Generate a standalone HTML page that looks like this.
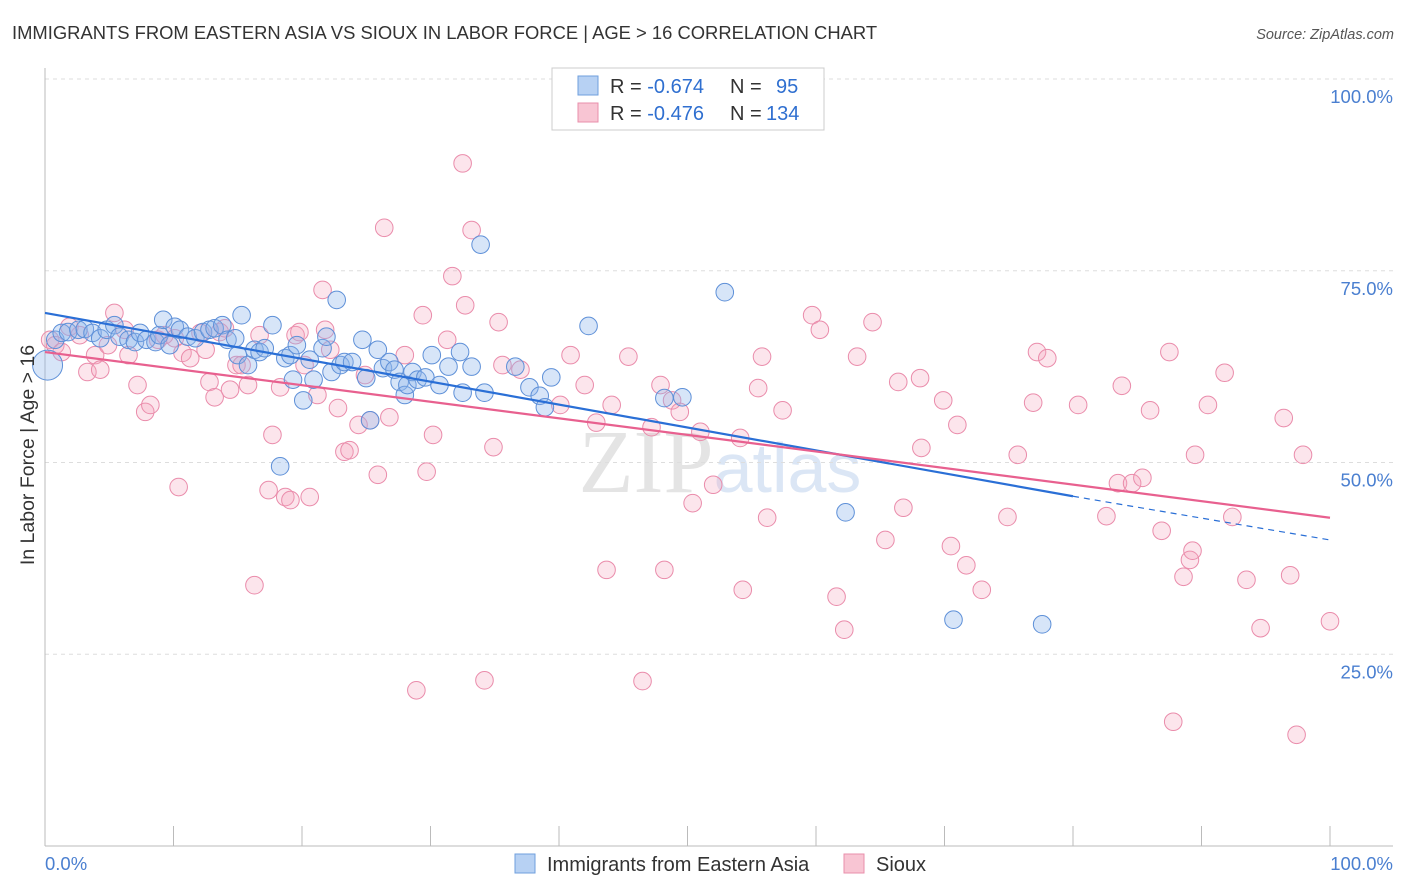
<!DOCTYPE html>
<html><head><meta charset="utf-8">
<style>
body{margin:0;background:#fff;font-family:"Liberation Sans",sans-serif;}
svg{display:block}
</style></head>
<body>
<svg id="chart" width="1406" height="892">
<text x="12" y="39" font-size="18.4" fill="#333">IMMIGRANTS FROM EASTERN ASIA VS SIOUX IN LABOR FORCE | AGE &gt; 16 CORRELATION CHART</text>
<text x="1394" y="39" font-size="14.5" fill="#555" font-style="italic" text-anchor="end">Source: ZipAtlas.com</text>
<text x="720" y="492" font-size="90" fill="#e4e4e4" text-anchor="middle" font-family="Liberation Serif,serif">ZIP<tspan fill="#dbe6f5" font-family="Liberation Sans,sans-serif" font-size="70">atlas</tspan></text>
<g id="grid"></g>
<g id="pts"></g>
<g id="lines"></g>
<text transform="translate(34,455) rotate(-90)" font-size="19.5" fill="#333" text-anchor="middle">In Labor Force | Age &gt; 16</text>
<g>
<rect x="552" y="68" width="272" height="62" fill="#fff" stroke="#ccc"/>
<rect x="578" y="76" width="20" height="19" fill="#b7d1f3" stroke="#6f9fde"/>
<rect x="578" y="103" width="20" height="19" fill="#f8c5d3" stroke="#e98fab"/>
<text x="610" y="93" font-size="20" fill="#333">R = <tspan fill="#2f6fd0">-0.674</tspan><tspan x="730">N = </tspan><tspan x="776" fill="#2f6fd0">95</tspan></text>
<text x="610" y="120" font-size="20" fill="#333">R = <tspan fill="#2f6fd0">-0.476</tspan><tspan x="730">N = </tspan><tspan x="766" fill="#2f6fd0">134</tspan></text>
</g>
<g>
<rect x="515" y="854" width="20" height="19" fill="#b7d1f3" stroke="#6f9fde"/>
<text x="547" y="871" font-size="20" fill="#333">Immigrants from Eastern Asia</text>
<rect x="844" y="854" width="20" height="19" fill="#f8c5d3" stroke="#e98fab"/>
<text x="876" y="871" font-size="20" fill="#333">Sioux</text>
</g>
</svg>
<script>
const yTicks=[25,50,75,100];
const yTickLabels=["25.0%","50.0%","75.0%","100.0%"];
const xTickLabels=["0.0%","100.0%"];
const blueX=[0.2,0.8,1.3,1.8,2.6,3.1,3.7,4.3,4.8,5.4,5.8,6.5,7.0,7.4,7.9,8.6,8.9,9.2,9.7,10.1,10.5,11.1,11.7,12.3,12.8,13.2,13.8,14.2,14.8,15.3,15.0,15.8,16.3,16.7,17.1,17.7,18.3,18.7,19.1,19.3,19.6,20.1,20.6,20.9,21.6,21.9,22.3,22.7,23.0,23.3,23.9,24.7,25.0,25.3,25.9,26.3,26.8,27.2,27.6,28.0,28.2,28.6,29.0,29.6,30.1,30.7,31.4,32.3,32.5,33.2,33.9,34.2,36.6,37.7,38.5,38.9,39.4,42.3,48.2,49.6,52.9,62.3,70.7,77.6];
const blueY=[62.7,66.0,66.9,67.0,67.3,67.4,66.9,66.2,67.3,67.9,66.4,66.0,65.7,66.9,66.0,65.7,66.6,68.6,65.3,67.7,67.3,66.4,66.2,67.0,67.3,67.5,67.9,66.0,66.2,69.2,64.0,62.7,64.7,64.4,64.9,67.9,49.5,63.6,64.0,60.8,65.3,58.1,63.4,60.8,64.9,66.4,61.8,71.2,62.7,63.1,63.1,66.0,61.0,55.5,64.7,62.3,63.1,62.1,60.5,58.8,60.1,61.8,60.8,61.1,64.0,60.1,62.5,64.4,59.1,62.5,78.4,59.1,62.5,59.8,58.7,57.2,61.1,67.8,58.4,58.5,72.2,43.5,29.5,28.9];
const pinkX=[0.4,0.8,1.3,1.9,2.7,3.3,3.9,4.3,4.9,5.4,6.2,6.5,7.2,7.8,8.2,8.8,9.3,10.1,10.4,10.7,11.3,12.1,12.5,12.8,13.2,13.6,14.0,14.4,14.9,15.3,15.8,16.3,16.7,17.4,17.7,18.3,18.7,19.1,19.5,19.8,20.2,20.6,21.2,21.6,21.8,22.2,22.8,23.3,23.7,24.4,24.9,25.3,25.9,26.4,26.8,28.0,28.9,29.4,29.7,30.2,31.3,31.7,32.5,32.7,33.2,34.2,34.9,35.3,35.6,37.0,40.1,40.9,42.0,42.9,43.7,44.1,45.4,46.5,47.2,47.9,48.2,48.8,49.4,50.4,51.0,52.0,54.1,54.3,55.5,55.8,56.2,57.4,59.7,60.3,61.6,62.2,63.2,64.4,65.4,66.4,66.8,68.1,68.2,69.9,70.5,71.0,71.7,72.9,74.9,75.7,76.9,77.2,78.0,80.4,82.6,83.5,83.8,84.6,85.4,86.0,86.9,87.5,87.8,88.6,89.1,89.3,89.5,90.5,91.8,92.4,93.5,94.6,96.4,96.9,97.4,97.9,100.0];
const pinkY=[66.0,65.3,64.4,67.7,66.6,61.8,64.0,62.1,65.3,69.5,67.3,64.0,60.1,56.6,57.5,66.0,66.6,66.2,46.8,64.3,63.6,66.9,64.7,60.5,58.5,67.0,67.5,59.5,62.7,62.7,60.1,34.0,66.6,46.4,53.6,59.8,45.5,45.1,66.6,67.0,62.7,45.5,58.8,72.5,67.3,64.7,57.1,51.4,51.6,54.9,61.4,55.5,48.4,80.6,55.9,64.0,20.3,69.2,48.8,53.6,66.0,74.3,89.0,70.5,80.3,21.6,52.0,68.3,62.7,62.1,57.5,64.0,60.1,55.2,36.0,57.5,63.8,21.5,54.6,60.1,36.0,58.1,56.6,44.7,54.0,47.1,53.2,33.4,59.7,63.8,42.8,56.8,69.2,67.3,32.5,28.2,63.8,68.3,39.9,60.5,44.1,61.0,51.9,58.1,39.1,54.9,36.6,33.4,42.9,51.0,57.8,64.4,63.6,57.5,43.0,47.3,60.0,47.3,48.0,56.8,41.1,64.4,16.2,35.1,37.3,38.5,51.0,57.5,61.7,42.9,34.7,28.4,55.8,35.3,14.5,51.0,29.3];
const blueTrend=[69.5,45.6,39.9]; // at x=0, 80, 100
const pinkTrend=[64.4,42.8];      // at x=0, 100

const NS="http://www.w3.org/2000/svg";
const X0=45,X1=1330,Y0=846,Y100=79;
const xs=v=>X0+(X1-X0)*v/100;
const ys=v=>Y0-(Y0-Y100)*v/100;
function mk(tag,attrs,parent){const e=document.createElementNS(NS,tag);for(const k in attrs)e.setAttribute(k,attrs[k]);parent.appendChild(e);return e;}
const grid=document.getElementById('grid');
yTicks.forEach((t,i)=>{
  const l=mk('line',{x1:X0,x2:1393,y1:ys(t),y2:ys(t),stroke:'#ddd','stroke-dasharray':'4,4'},grid);
  
  
  const tx=mk('text',{x:1393,y:ys(t)+24,'font-size':18.5,fill:'#4a7fd0','text-anchor':'end'},grid);
  tx.textContent=yTickLabels[i];
  
  
});
const ax=mk('line',{x1:X0,x2:X0,y1:68,y2:Y0,stroke:'#bbb'},grid);


const bx=mk('line',{x1:X0,x2:1393,y1:Y0,y2:Y0,stroke:'#bbb'},grid);


for(let i=0;i<=10;i++){
  const t=mk('line',{x1:xs(i*10),x2:xs(i*10),y1:Y0-20,y2:Y0,stroke:'#bbb'},grid);
  
  
}
[[0,'start',45],[100,'end',1393]].forEach((d,i)=>{
  const tx=mk('text',{x:d[2],y:870,'font-size':18.5,fill:'#4a7fd0','text-anchor':d[1]},grid);
  tx.textContent=xTickLabels[i];
  
  
});
const pts=document.getElementById('pts');
pinkX.forEach((x,i)=>{
  const c=mk('circle',{cx:xs(x),cy:ys(pinkY[i]),r:8.8,fill:'rgba(244,160,185,0.28)',stroke:'#ea8cab','stroke-width':1},pts);
  
  
});
blueX.forEach((x,i)=>{
  const c=mk('circle',{cx:xs(x),cy:ys(blueY[i]),r:i===0?15:8.8,fill:'rgba(140,180,235,0.35)',stroke:'#5e90d8','stroke-width':1},pts);
  
  
});
const lines=document.getElementById('lines');
let l1=mk('line',{x1:xs(0),y1:ys(blueTrend[0]),x2:xs(80),y2:ys(blueTrend[1]),stroke:'#2a6fd6','stroke-width':2.2},lines);


let l2=mk('line',{x1:xs(80),y1:ys(blueTrend[1]),x2:xs(100),y2:ys(blueTrend[2]),stroke:'#2a6fd6','stroke-width':1.2,'stroke-dasharray':'6,5'},lines);


let l3=mk('line',{x1:xs(0),y1:ys(pinkTrend[0]),x2:xs(100),y2:ys(pinkTrend[1]),stroke:'#e8608f','stroke-width':2.2},lines);


</script>
</body></html>
